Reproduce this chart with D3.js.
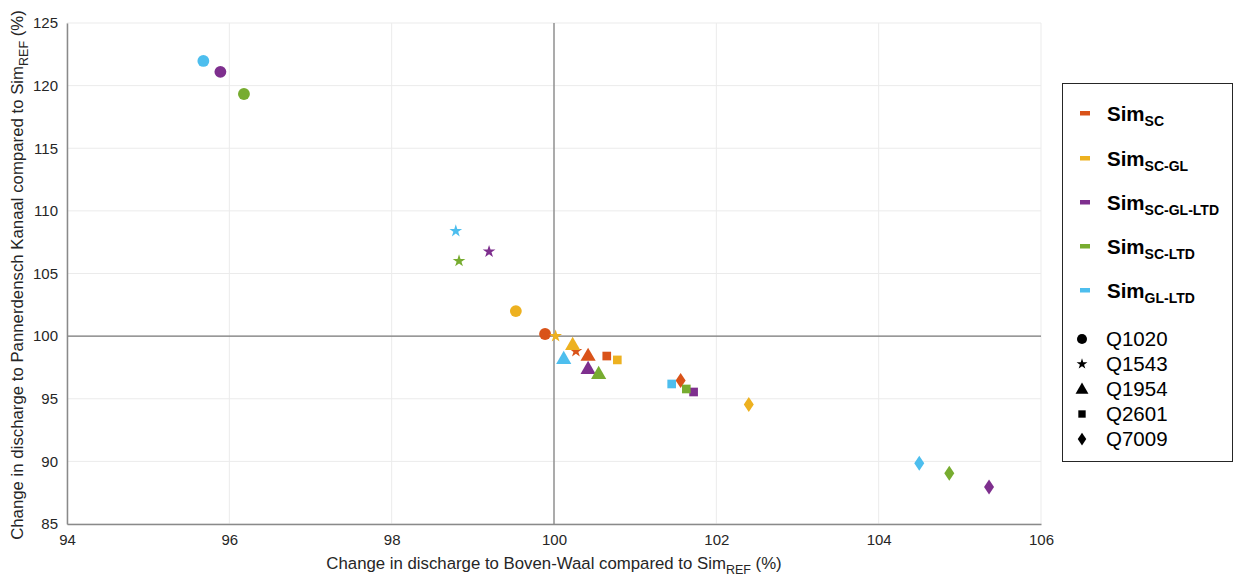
<!DOCTYPE html>
<html><head><meta charset="utf-8">
<script src="https://cdn.jsdelivr.net/npm/d3@7/dist/d3.min.js"></script>
<style>body{margin:0;background:#fff;} svg{display:block;font-family:"Liberation Sans",Arial,sans-serif;}</style>
</head><body>
<svg id="c" width="1235" height="576"></svg>
<script>
// Series (simulations) and their colours
const series = ["SC", "SC-GL", "SC-GL-LTD", "SC-LTD", "GL-LTD"];
const seriesColors = ["#D95319", "#EDB120", "#7E2F8E", "#77AC30", "#4DBEEE"];
// Discharge events (marker shapes)
const events = ["Q1020", "Q1543", "Q1954", "Q2601", "Q7009"];
// x values (Boven-Waal %) per series, ordered by events
const xSC        = [99.89, 100.27, 100.42, 100.65, 101.56];
const xSCGL      = [99.53, 100.02, 100.23, 100.78, 102.40];
const xSCGLLTD   = [95.89, 99.20, 100.42, 101.72, 105.36];
const xSCLTD     = [96.18, 98.83, 100.55, 101.63, 104.87];
const xGLLTD     = [95.68, 98.79, 100.12, 101.45, 104.50];
// y values (Pannerdensch Kanaal %) per series, ordered by events
const ySC        = [100.17, 98.80, 98.50, 98.41, 96.45];
const ySCGL      = [102.00, 100.00, 99.37, 98.10, 94.55];
const ySCGLLTD   = [121.10, 106.75, 97.45, 95.54, 87.95];
const ySCLTD     = [119.33, 106.00, 97.05, 95.78, 89.05];
const yGLLTD     = [121.97, 108.39, 98.25, 96.18, 89.85];
const xTicks = [94, 96, 98, 100, 102, 104, 106];
const yTicks = [85, 90, 95, 100, 105, 110, 115, 120, 125];

const xs = [xSC, xSCGL, xSCGLLTD, xSCLTD, xGLLTD];
const ys = [ySC, ySCGL, ySCGLLTD, ySCLTD, yGLLTD];
const points = [];
series.forEach((s, i) => events.forEach((e, j) => points.push({s: i, e: j, x: xs[i][j], y: ys[i][j]})));

const svg = d3.select("#c");
const L = 67, R = 1041, T = 23, B = 524;
const x = d3.scaleLinear().domain([94, 106]).range([L, R]);
const y = d3.scaleLinear().domain([85, 125]).range([B, T]);

// grid
const g = svg.append("g");
g.selectAll(".gx").data(xTicks).join("line")
  .attr("x1", d => x(d)).attr("x2", d => x(d)).attr("y1", T).attr("y2", B)
  .attr("stroke", "#ebebeb").attr("stroke-width", 1);
g.selectAll(".gy").data(yTicks).join("line")
  .attr("y1", d => y(d)).attr("y2", d => y(d)).attr("x1", L).attr("x2", R)
  .attr("stroke", "#ebebeb").attr("stroke-width", 1);

// reference lines at 100
svg.append("line").attr("x1", x(100)).attr("x2", x(100)).attr("y1", T).attr("y2", B)
  .attr("stroke", "#7a7a7a").attr("stroke-width", 1.2);
svg.append("line").attr("y1", y(100)).attr("y2", y(100)).attr("x1", L).attr("x2", R)
  .attr("stroke", "#7a7a7a").attr("stroke-width", 1.2);

// axes
const xAxis = d3.axisBottom(x).tickValues(xTicks).tickSize(0).tickPadding(10).tickFormat(d3.format("d"));
const yAxis = d3.axisLeft(y).tickValues(yTicks).tickSize(0).tickPadding(9).tickFormat(d3.format("d"));
const ga = svg.append("g").attr("transform", `translate(0,${B})`).call(xAxis);
const gb = svg.append("g").attr("transform", `translate(${L},0)`).call(yAxis);
[ga, gb].forEach(a => {
  a.select(".domain").attr("stroke", "#8a8a8a").attr("stroke-width", 1.5);
  a.selectAll("text").attr("font-size", 15).attr("fill", "#262626")
    .attr("font-family", "Liberation Sans, Arial, sans-serif");
});
gb.selectAll("text").attr("dy", "0.32em");

// marker shapes
const shapes = [d3.symbolCircle, d3.symbolStar, d3.symbolTriangle, d3.symbolSquare, null];
const sizes = [110, 50, 100, 75, 0];
function markerPath(j, scale) {
  scale = scale || 1;
  if (j === 4) { const w = 5 * scale, h = 7.5 * scale; return `M0,${-h}L${w},0L0,${h}L${-w},0Z`; }
  return d3.symbol().type(shapes[j]).size(sizes[j] * scale * scale)();
}
svg.append("g").selectAll("path").data(points).join("path")
  .attr("d", d => markerPath(d.e))
  .attr("transform", d => `translate(${x(d.x)},${y(d.y) + (d.e === 2 ? 1.5 : 0)})`)
  .attr("fill", d => seriesColors[d.s]);

// axis labels
const xl = svg.append("text").attr("x", x(100)).attr("y", 569).attr("text-anchor", "middle")
  .attr("font-size", 16.8).attr("fill", "#262626");
xl.append("tspan").text("Change in discharge to Boven-Waal compared to Sim");
xl.append("tspan").attr("font-size", 12.5).attr("dy", 4.5).text("REF");
xl.append("tspan").attr("dy", -4.5).text(" (%)");

const yl = svg.append("text").attr("transform", `translate(23,275) rotate(-90)`)
  .attr("text-anchor", "middle").attr("font-size", 16.8).attr("fill", "#262626");
yl.append("tspan").text("Change in discharge to Pannerdensch Kanaal  compared to Sim");
yl.append("tspan").attr("font-size", 12.5).attr("dy", 4.5).text("REF");
yl.append("tspan").attr("dy", -4.5).text(" (%)");

// legend
const lg = svg.append("g");
lg.append("rect").attr("x", 1062.5).attr("y", 83.5).attr("width", 170).attr("height", 378)
  .attr("fill", "#fff").attr("stroke", "#262626").attr("stroke-width", 1);
const sy = [113, 158, 202, 246, 290];
series.forEach((s, i) => {
  lg.append("rect").attr("x", 1080).attr("y", sy[i] - 2).attr("width", 10).attr("height", 4.5)
    .attr("fill", seriesColors[i]);
  const t = lg.append("text").attr("x", 1107).attr("y", sy[i] + 8).attr("font-weight", "bold")
    .attr("font-size", 20.5).attr("fill", "#000");
  t.append("tspan").text("Sim");
  t.append("tspan").attr("font-size", 14).attr("dy", 5).text(s);
});
const ey = [339, 364, 389, 414, 439];
events.forEach((e, j) => {
  lg.append("path").attr("d", markerPath(j, 0.85)).attr("transform", `translate(1082,${ey[j] + (j === 2 ? 1 : 0)})`)
    .attr("fill", "#000");
  lg.append("text").attr("x", 1106).attr("y", ey[j] + 7).attr("font-size", 20.5).attr("fill", "#000").text(e);
});
</script>
</body></html>
